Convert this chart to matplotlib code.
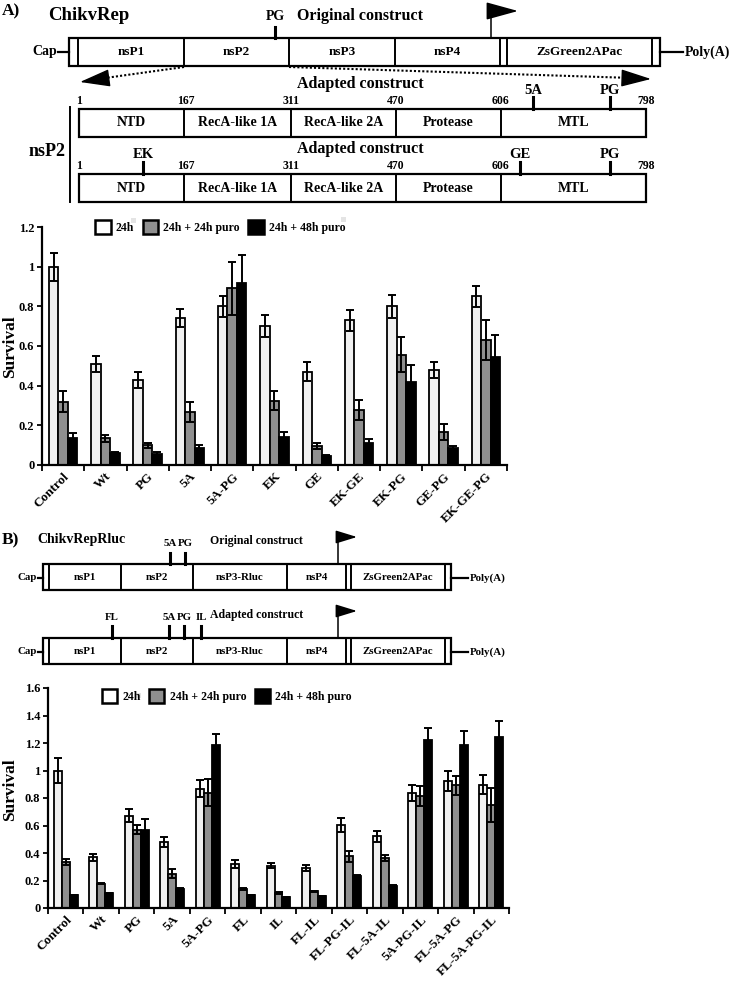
import numpy as np
import matplotlib.pyplot as plt
from matplotlib.patches import Rectangle, Patch
from matplotlib.ticker import FixedLocator, FuncFormatter

plt.rcParams['font.family'] = ['Liberation Serif', 'DejaVu Serif']
plt.rcParams['font.weight'] = 'bold'
plt.rcParams['axes.labelweight'] = 'bold'

# ---- panel A: ChikvRep survival ----
groups_a = ['Control', 'Wt', 'PG', '5A', '5A-PG', 'EK', 'GE', 'EK-GE', 'EK-PG', 'GE-PG', 'EK-GE-PG']
h24_a = [1.00, 0.51, 0.43, 0.74, 0.80, 0.70, 0.47, 0.73, 0.80, 0.48, 0.85]
h24_a_err = [0.07, 0.04, 0.04, 0.045, 0.054, 0.054, 0.048, 0.054, 0.057, 0.039, 0.053]
puro24_a = [0.32, 0.135, 0.10, 0.267, 0.89, 0.325, 0.096, 0.277, 0.557, 0.165, 0.63]
puro24_a_err = [0.054, 0.017, 0.012, 0.049, 0.132, 0.047, 0.013, 0.05, 0.086, 0.041, 0.10]
puro48_a = [0.135, 0.058, 0.056, 0.085, 0.918, 0.14, 0.047, 0.11, 0.42, 0.085, 0.543]
puro48_a_err = [0.024, 0.008, 0.009, 0.016, 0.139, 0.024, 0.002, 0.02, 0.084, 0.012, 0.111]

# ---- panel B: ChikvRepRluc survival ----
groups_b = ['Control', 'Wt', 'PG', '5A', '5A-PG', 'FL', 'IL', 'FL-IL', 'FL-PG-IL',
            'FL-5A-IL', '5A-PG-IL', 'FL-5A-PG', 'FL-5A-PG-IL']
h24_b = [1.0, 0.368, 0.672, 0.48, 0.868, 0.32, 0.308, 0.291, 0.601, 0.521, 0.836, 0.921, 0.897]
h24_b_err = [0.09, 0.027, 0.048, 0.034, 0.06, 0.027, 0.02, 0.022, 0.051, 0.041, 0.061, 0.073, 0.068]
puro24_b = [0.335, 0.175, 0.57, 0.25, 0.84, 0.138, 0.109, 0.121, 0.376, 0.364, 0.812, 0.892, 0.75]
puro24_b_err = [0.02, 0.004, 0.035, 0.034, 0.1, 0.004, 0.004, 0.004, 0.04, 0.024, 0.073, 0.07, 0.126]
puro48_b = [0.092, 0.109, 0.57, 0.138, 1.188, 0.092, 0.08, 0.085, 0.23, 0.162, 1.224, 1.188, 1.241]
puro48_b_err = [0.003, 0.003, 0.078, 0.004, 0.078, 0.003, 0.003, 0.003, 0.008, 0.006, 0.082, 0.1, 0.121]

series_labels = ['24h', '24h + 24h puro', '24h + 48h puro']
series_colors = ['#f0f0f0', '#8f8f8f', '#000000']

# ---- construct diagrams ----
genome_a = ['nsP1', 'nsP2', 'nsP3', 'nsP4', 'ZsGreen2APac']
genome_b = ['nsP1', 'nsP2', 'nsP3-Rluc', 'nsP4', 'ZsGreen2APac']
nsp2_domains = ['NTD', 'RecA-like 1A', 'RecA-like 2A', 'Protease', 'MTL']
nsp2_residues = ['1', '167', '311', '470', '606', '798']

W, H = 733, 983
fig = plt.figure(figsize=(W / 100, H / 100), dpi=100)
bg = fig.add_axes([0, 0, 1, 1])
bg.set_xlim(0, W)
bg.set_ylim(H, 0)
bg.axis('off')


def box(x_edges, lab_idx, names, y0, y1, fs):
    bg.add_patch(Rectangle((x_edges[0], y0), x_edges[-1] - x_edges[0], y1 - y0,
                           fill=False, lw=1.6, ec='k'))
    for x in x_edges[1:-1]:
        bg.plot([x, x], [y0, y1], color='k', lw=1.4)
    for i, name in zip(lab_idx, names):
        bg.text((x_edges[i] + x_edges[i + 1]) / 2, (y0 + y1) / 2, name,
                ha='center', va='center', fontsize=fs)


def mark(x, ytop, ybot, label, fs, ylab):
    bg.plot([x, x], [ytop, ybot], color='k', lw=2.2)
    bg.text(x, ylab, label, ha='center', va='center', fontsize=fs)


def promoter(x, ybot, ytop, xtip, hl, hw):
    bg.plot([x, x], [ybot, ytop], color='k', lw=1.1)
    bg.annotate('', xy=(xtip, ytop), xytext=(x - 0.5, ytop),
                arrowprops=dict(arrowstyle='-|>,head_length=%g,head_width=%g' % (hl, hw),
                                color='k', lw=1.1, shrinkA=0, shrinkB=0, mutation_scale=10))


def ends(xl, xr, y, fs, cap_len, poly_len):
    bg.plot([xl - cap_len, xl], [y, y], color='k', lw=1.6)
    bg.text(xl - cap_len - 1, y, 'Cap', ha='right', va='center', fontsize=fs)
    bg.plot([xr, xr + poly_len], [y, y], color='k', lw=1.6)
    bg.text(xr + poly_len + 2, y, 'Poly(A)', ha='left', va='center', fontsize=fs)


# panel A header
bg.text(2, 11, 'A)', ha='left', va='center', fontsize=12.5)
bg.text(48, 15, 'ChikvRep', ha='left', va='center', fontsize=13.5)
bg.text(297, 16, 'Original construct', ha='left', va='center', fontsize=11.5)
gx_a = [69, 78, 184, 289, 395, 500, 507, 652, 660]
box(gx_a, [1, 2, 3, 4, 6], genome_a, 38, 66, 9.5)
ends(69, 660, 52, 10, 11, 23)
mark(275, 27, 38, 'PG', 10, 16)
promoter(491, 38, 11, 518, 2.0, 0.55)

# dotted zoom arrows
bg.plot([184, 98], [67, 79], color='k', lw=1.5, ls=(0, (1, 1)))
bg.annotate('', xy=(80, 82), xytext=(98, 79.5),
            arrowprops=dict(arrowstyle='-|>,head_length=1.9,head_width=0.55', color='k',
                            lw=1, shrinkA=0, shrinkB=0, mutation_scale=10))
bg.plot([289, 633], [67, 78], color='k', lw=1.5, ls=(0, (1, 1)))
bg.annotate('', xy=(651, 79), xytext=(633, 78.4),
            arrowprops=dict(arrowstyle='-|>,head_length=1.9,head_width=0.55', color='k',
                            lw=1, shrinkA=0, shrinkB=0, mutation_scale=10))

# nsP2 domain maps
nx = [79, 184, 291, 396, 501, 646]
for y0, title_y in [(109, 84), (174, 149)]:
    bg.text(360, title_y, 'Adapted construct', ha='center', va='center', fontsize=11.5)
    box(nx, [0, 1, 2, 3, 4], nsp2_domains, y0, y0 + 28, 10)
    for x, r in zip(nx, nsp2_residues):
        bg.text(x + (2 if r == '167' else 0), y0 - 2, r, ha='center', va='bottom', fontsize=8.5)
mark(533, 97, 109, '5A', 10.5, 90)
mark(610, 97, 109, 'PG', 10.5, 90)
mark(143, 162, 174, 'EK', 10.5, 154)
mark(520, 162, 174, 'GE', 10.5, 154)
mark(610, 162, 174, 'PG', 10.5, 154)
bg.plot([70, 70], [107, 202], color='k', lw=1.4)
bg.text(47, 151, 'nsP2', ha='center', va='center', fontsize=13)

# panel B header and constructs
bg.text(2, 540, 'B)', ha='left', va='center', fontsize=12.5)
bg.text(37, 540, 'ChikvRepRluc', ha='left', va='center', fontsize=10)
bg.text(256, 541, 'Original construct', ha='center', va='center', fontsize=8.5)
bg.text(257, 615, 'Adapted construct', ha='center', va='center', fontsize=8.5)
gx_b = [43, 49, 121, 193, 287, 346, 351, 445, 451]
for y0 in [564, 638]:
    box(gx_b, [1, 2, 3, 4, 6], genome_b, y0, y0 + 26, 7.8)
    ends(43, 451, y0 + 14, 7.8, 5, 17)
    promoter(338, y0, y0 - 27, 357, 1.3, 0.4)
mark(170, 553, 564, '5A', 7.8, 543)
mark(185, 553, 564, 'PG', 7.8, 543)
for x, lab in [(112, 'FL'), (169, '5A'), (184, 'PG'), (201, 'IL')]:
    mark(x, 626, 638, lab, 7.8, 617)


def px_axes(x0, x1, ytop, ybot):
    return fig.add_axes([x0 / W, 1 - ybot / H, (x1 - x0) / W, (ybot - ytop) / H])


def bars(ax, groups, vals, errs, ymax, step):
    n = len(groups)
    x = np.arange(n)
    bw = 0.225
    for k in range(3):
        xs = x + (k - 1) * bw
        ax.bar(xs, vals[k], bw, color=series_colors[k], edgecolor='k', lw=1.3, zorder=2)
        ax.errorbar(xs, vals[k], yerr=errs[k], fmt='none', ecolor='k', elinewidth=1.4,
                    capsize=2.6, capthick=1.4, zorder=3)
    ax.set_xlim(-0.5, n - 0.5)
    ax.set_ylim(0, ymax)
    ax.set_yticks(np.arange(0, ymax + 0.001, step))
    ax.yaxis.set_major_formatter(FuncFormatter(lambda v, p: '%g' % round(v, 1)))
    ax.set_xticks(x)
    ax.set_xticklabels(groups, rotation=45, ha='right', va='top', rotation_mode='anchor',
                       fontsize=9.5)
    ax.xaxis.set_minor_locator(FixedLocator(np.arange(-0.5, n, 1.0)))
    ax.tick_params(axis='x', which='major', length=0, pad=4)
    ax.tick_params(axis='x', which='minor', length=4, width=1.3, direction='out')
    ax.tick_params(axis='y', length=3.5, width=1.3, direction='out', labelsize=9, pad=2)
    for s in ['top', 'right']:
        ax.spines[s].set_visible(False)
    for s in ['left', 'bottom']:
        ax.spines[s].set_linewidth(1.6)
    ax.set_facecolor('none')
    ax.set_ylabel('Survival', fontsize=12.5, fontweight='bold')
    handles = [Patch(facecolor=c if c != '#f0f0f0' else 'white', edgecolor='k', lw=1.8)
               for c in series_colors]
    return handles


leg_kw = dict(ncol=3, loc='center left', frameon=False, borderpad=0, handlelength=1.3,
              handleheight=1.55, handletextpad=0.45, columnspacing=0.7,
              prop={'size': 8.5, 'weight': 'bold'})

axA = px_axes(42, 507, 227, 465)
hA = bars(axA, groups_a, [h24_a, puro24_a, puro48_a], [h24_a_err, puro24_a_err, puro48_a_err], 1.2, 0.2)
axA.yaxis.set_label_coords(-0.052, 0.496)
axA.legend(hA, series_labels, bbox_to_anchor=(0.102, 1.0), **leg_kw)

axB = px_axes(48, 509, 688, 908)
hB = bars(axB, groups_b, [h24_b, puro24_b, puro48_b], [h24_b_err, puro24_b_err, puro48_b_err], 1.6, 0.2)
axB.yaxis.set_label_coords(-0.066, 0.536)
axB.legend(hB, series_labels, bbox_to_anchor=(0.104, 0.964), **leg_kw)

# faint grey specks next to legend labels in the original figure
for (x, y) in [(131, 218), (341, 217), (136, 693)]:
    bg.add_patch(Rectangle((x, y), 5, 5, color='#e4e4e4', lw=0))

fig.savefig('out.png', dpi=100)
